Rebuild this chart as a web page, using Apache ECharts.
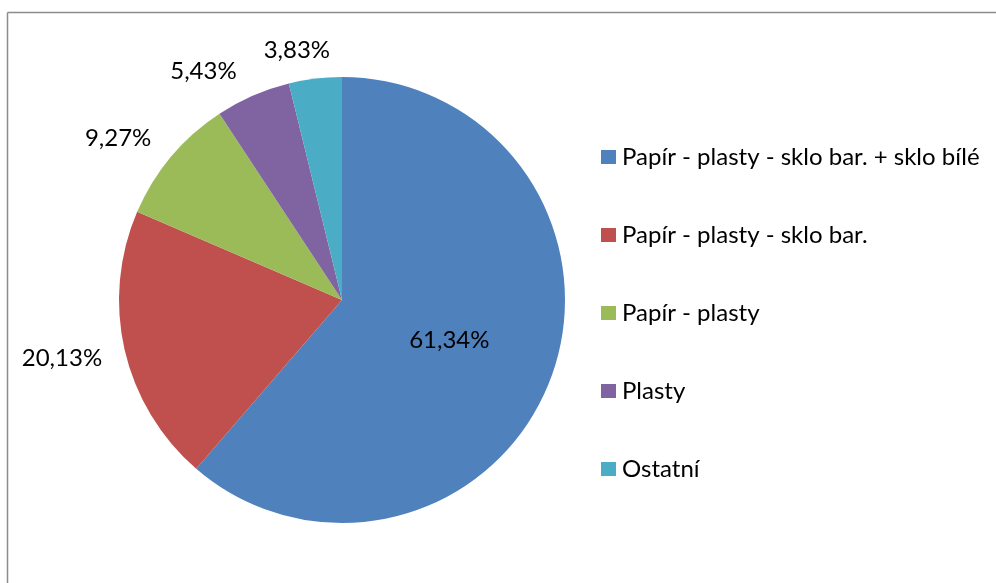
<!DOCTYPE html>
<html>
<head>
<meta charset="utf-8">
<script src="https://cdn.jsdelivr.net/npm/echarts@6/dist/echarts.min.js"></script>
<style>
  html, body { margin: 0; padding: 0; background: #fff; }
  #chart { width: 996px; height: 583px; }
</style>
</head>
<body>
<div id="chart"></div>
<script>
// Share of collection-point types (percent)
const categories = [
  'Papír - plasty - sklo bar. + sklo bílé',
  'Papír - plasty - sklo bar.',
  'Papír - plasty',
  'Plasty',
  'Ostatní'
];
const shares = [61.34, 20.13, 9.27, 5.43, 3.83];
const colors = ['#4F81BD', '#C0504D', '#9BBB59', '#8064A2', '#4BACC6'];

const FONT = 'Lato';

// small nudges of the outside labels so they sit clear of the rim
const labelNudges = [
  {},
  { dy: 4 },
  { dx: -1, dy: -7 },
  { dx: -4, dy: -8 },
  { dx: 22, dy: -10 }
];

const chart = echarts.init(document.getElementById('chart'), null, { renderer: 'canvas' });

const data = categories.map((name, i) => {
  const item = { name, value: shares[i], itemStyle: { color: colors[i] } };
  if (i === 0) item.label = { position: 'inside' };
  return item;
});

chart.setOption({
  animation: false,
  backgroundColor: '#fff',
  graphic: [
    { type: 'line', shape: { x1: 7.5, y1: 12.5, x2: 996, y2: 12.5 }, style: { stroke: '#8c8c8c', lineWidth: 1.5 }, silent: true },
    { type: 'line', shape: { x1: 7.5, y1: 12.5, x2: 7.5, y2: 583 }, style: { stroke: '#8c8c8c', lineWidth: 1.5 }, silent: true }
  ],
  legend: {
    orient: 'vertical',
    left: 596,
    top: 140,
    icon: 'rect',
    itemWidth: 15,
    itemHeight: 14,
    itemGap: 54,
    textStyle: { fontFamily: FONT, fontSize: 24, color: '#000', padding: [0, 0, 0, 1] },
    data: categories
  },
  series: [{
    type: 'pie',
    center: [342, 300],
    radius: 223,
    startAngle: 90,
    clockwise: true,
    avoidLabelOverlap: false,
    label: {
      show: true,
      position: 'outside',
      fontFamily: FONT,
      fontSize: 24,
      color: '#000',
      formatter: p => p.value.toFixed(2).replace('.', ',') + '%'
    },
    labelLine: { show: false, length: 18, length2: 0 },
    labelLayout: p => labelNudges[p.dataIndex],
    emphasis: { disabled: true },
    data
  }]
});
</script>
</body>
</html>
